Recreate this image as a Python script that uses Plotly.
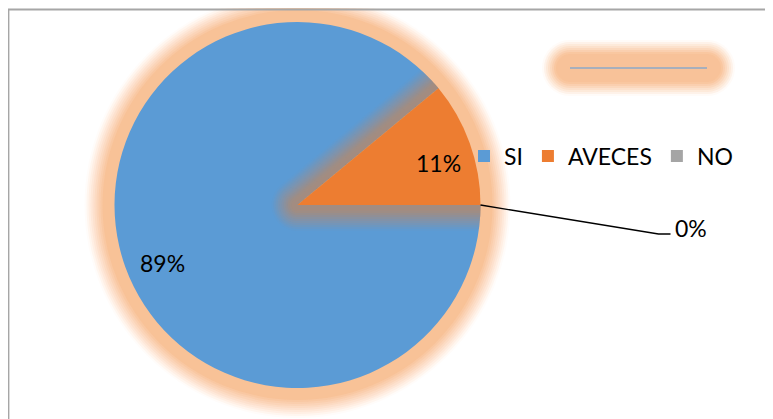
import math
import plotly.graph_objects as go

# ---------------- data ----------------
labels = ["SI", "AVECES", "NO"]
values = [89, 11, 0]
slice_colors = ["#5B9BD5", "#ED7D31", "#A5A5A5"]

# ---------------- layout constants (pixels, screen frame) ----------------
W, H = 773, 419
OFF = 8.0                              # page body margin
CX, CY, R = 297.5, 205.0, 183.0        # pie centre / radius
ROT = 90                               # first slice starts at 3 o'clock
FONT = "Lato"
GLOW_RGB = (246, 133, 46)


def px(x):
    return (x - OFF) / W


def py(y):
    return 1 - (y - OFF) / H


def path_from(points):
    return "M " + " L ".join(f"{px(x):.5f},{py(y):.5f}" for x, y in points) + " Z"


def pt(ang_deg, r, cx=CX, cy=CY):
    a = math.radians(ang_deg)
    return (cx + r * math.cos(a), cy - r * math.sin(a))


def glow_layers(dmax=30.0, dsolid=11.0, step=2.0, a0=0.48):
    """per-layer alphas so that stacked layers give a soft glow profile"""
    def target(x):
        if x <= dsolid:
            return a0
        f = max(0.0, 1 - (x - dsolid) / (dmax - dsolid))
        return a0 * f
    out = []
    prev_t = 1.0
    d = dmax
    while d > 0:
        tgt = target(d - step / 2)
        t_need = 1 - tgt
        p = 1 - t_need / prev_t
        if p > 0.001:
            out.append((d, p))
            prev_t = t_need
        d -= step
    return out


def rgba(p):
    return f"rgba({GLOW_RGB[0]},{GLOW_RGB[1]},{GLOW_RGB[2]},{p:.3f})"


# slice angles (math convention, degrees, CCW positive)
total = sum(values)
angles = []
cum = 0.0
for v in values:
    a_start = 90 - ROT - cum * 360 / total
    a_end = a_start - v * 360 / total
    angles.append((a_end, a_start))
    cum += v

shapes = []
layers = glow_layers()

# outer glow around the whole pie (below the pie)
for d, p in layers:
    shapes.append(dict(type="circle", xref="paper", yref="paper", layer="below",
                       x0=px(CX - R - d), x1=px(CX + R + d),
                       y0=py(CY + R + d), y1=py(CY - R - d),
                       fillcolor=rgba(p), line=dict(width=0)))

# glow of the AVECES slice spilling over the SI slice (above the pie)
lo, hi = angles[1]
for d, p in glow_layers(dmax=26.0, dsolid=6.0, a0=0.48):
    delta = math.degrees(math.asin(min(d / R, 0.99)))
    s = math.sqrt(R * R - d * d)
    pts = []
    n0 = lo - 90
    n1 = hi + 90
    x0, y0 = pt(n0, d)
    ux, uy = math.cos(math.radians(lo)), -math.sin(math.radians(lo))
    pts.append((x0 + s * ux, y0 + s * uy))
    pts.append((x0, y0))
    n = 40
    a_from, a_to = n0, n1 - 360
    for i in range(1, n):
        pts.append(pt(a_from + (a_to - a_from) * i / n, d))
    x1, y1 = pt(n1, d)
    pts.append((x1, y1))
    vx, vy = math.cos(math.radians(hi)), -math.sin(math.radians(hi))
    pts.append((x1 + s * vx, y1 + s * vy))
    for i in range(1, 10):
        pts.append(pt(hi + delta - delta * i / 10, R))
    pts.append(pt(hi, R))
    pts.append((CX, CY))
    pts.append(pt(lo, R))
    for i in range(1, 10):
        pts.append(pt(lo - delta * i / 10, R))
    shapes.append(dict(type="path", xref="paper", yref="paper", layer="above",
                       path=path_from(pts), fillcolor=rgba(p), line=dict(width=0)))

# decorative glowing line at the top right (empty title placeholder)
LX0, LX1, LY = 570.0, 707.0, 68.0
for d, p in glow_layers(dmax=28.0, dsolid=14.0):
    pts = []
    for i in range(0, 21):
        pts.append(pt(90 + 180 * i / 20, d, LX0, LY))
    for i in range(0, 21):
        pts.append(pt(270 + 180 * i / 20, d, LX1, LY))
    shapes.append(dict(type="path", xref="paper", yref="paper", layer="below",
                       path=path_from(pts), fillcolor=rgba(p), line=dict(width=0)))
shapes.append(dict(type="line", xref="paper", yref="paper", layer="below",
                   x0=px(LX0), x1=px(LX1), y0=py(LY), y1=py(LY),
                   line=dict(color="#8DA9C8", width=1.5)))

# chart area border (left and top edges visible)
shapes.append(dict(type="path", xref="paper", yref="paper", layer="above",
                   path=f"M {px(8.5)},{py(H + 20)} L {px(8.5)},{py(9.5)} L {px(W + 20)},{py(9.5)}",
                   line=dict(color="#A6A6A6", width=1.8)))

# data labels
annotations = []
for i, v in enumerate(values):
    pct = round(100 * v / total)
    a_lo, a_hi = angles[i]
    mid = (a_lo + a_hi) / 2
    if v / total > 0.02:
        x, y = pt(mid, 0.8 * R)
        annotations.append(dict(x=px(x + 3), y=py(y + 8), xref="paper", yref="paper",
                                xanchor="center", yanchor="middle",
                                text=f"{pct}%", showarrow=False,
                                font=dict(family=FONT, size=23, color="#000000")))
    else:
        ex, ey = pt(mid, R)
        bx, by = ex + 178, ey + 29
        shapes.append(dict(type="path", xref="paper", yref="paper", layer="above",
                           path=f"M {px(ex)},{py(ey)} L {px(bx)},{py(by)} L {px(bx + 12)},{py(by)}",
                           line=dict(color="#000000", width=1.3)))
        annotations.append(dict(x=px(bx + 14), y=py(ey + 23), xref="paper", yref="paper",
                                xanchor="left", yanchor="middle", text=f"{pct}%", showarrow=False,
                                font=dict(family=FONT, size=23, color="#000000")))

fig = go.Figure()
fig.add_trace(go.Pie(
    labels=labels, values=values, sort=False, direction="clockwise", rotation=ROT,
    marker=dict(colors=slice_colors, line=dict(width=0)),
    textinfo="none", hoverinfo="label+percent",
    domain=dict(x=[px(CX - R), px(CX + R)], y=[py(CY + R), py(CY - R)]),
))

fig.update_layout(
    width=W, height=H, autosize=False,
    margin=dict(l=0, r=0, t=0, b=0),
    paper_bgcolor="white", plot_bgcolor="white",
    font=dict(family=FONT, size=23, color="#000000"),
    showlegend=True,
    legend=dict(orientation="h", x=px(464), y=py(156), xanchor="left", yanchor="middle",
                bgcolor="rgba(0,0,0,0)", font=dict(family=FONT, size=23, color="#000000"),
                traceorder="normal"),
    shapes=shapes,
    annotations=annotations,
)

fig.write_html("out.html")
